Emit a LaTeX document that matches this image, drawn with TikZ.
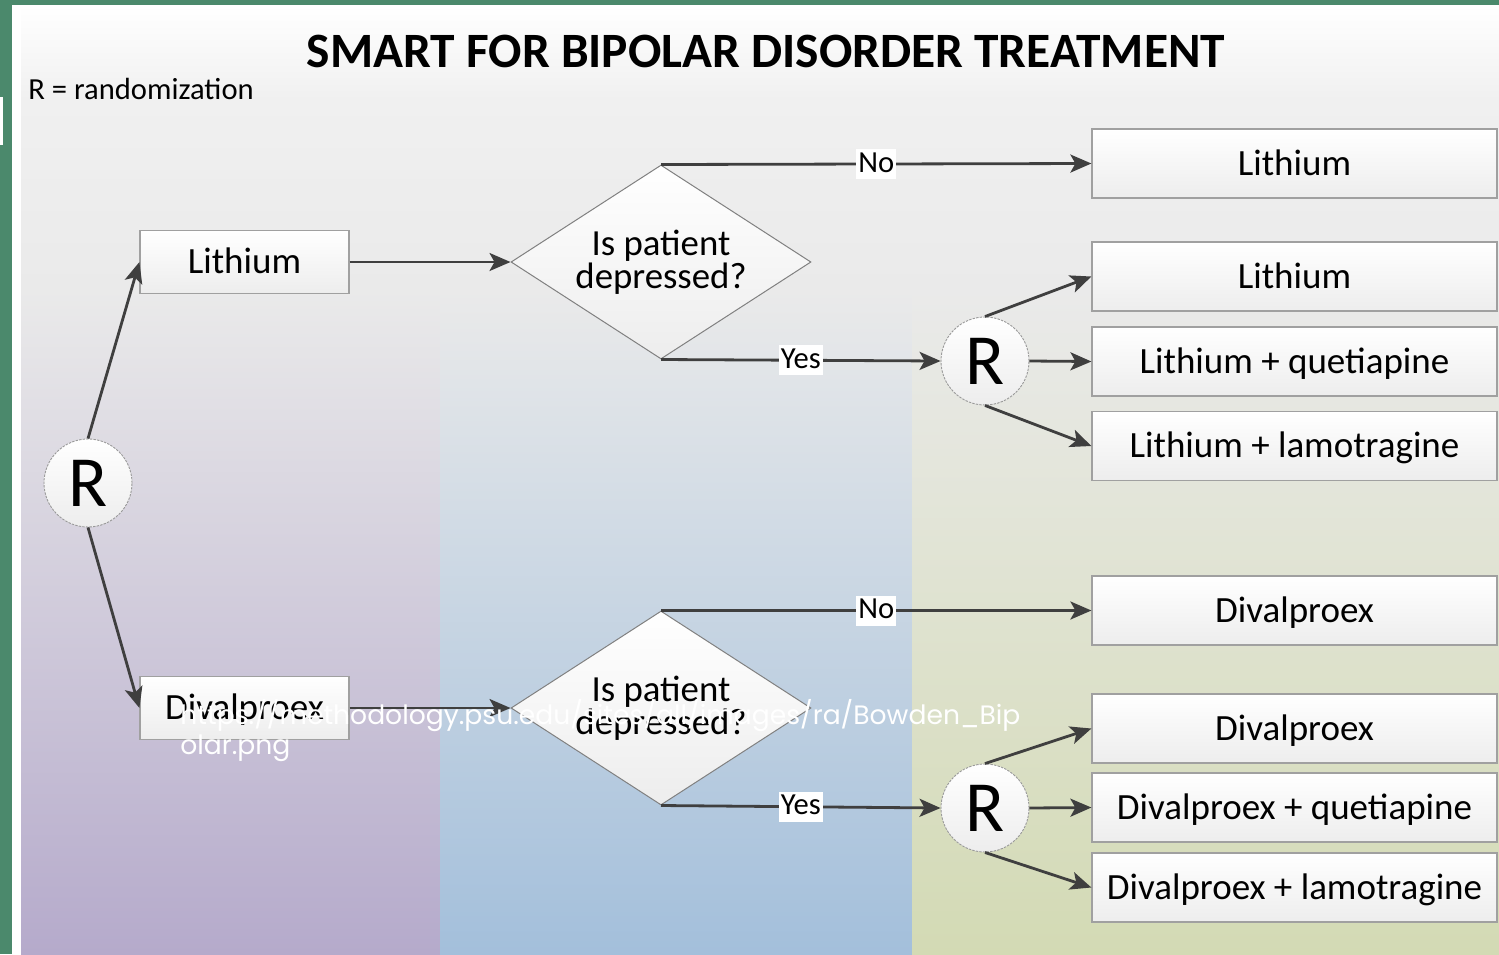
\documentclass[tikz,border=0pt]{standalone}
\usepackage{fontspec}
\setmainfont{Carlito}
\newfontfamily\wmfont{Poppins}
\usetikzlibrary{shapes.geometric,arrows.meta}
\definecolor{framegreen}{HTML}{4B896C}
\definecolor{topg}{HTML}{F0F0F0}
\definecolor{midg}{HTML}{EAEAEA}
\definecolor{lavB}{HTML}{B5AACB}
\definecolor{bluB}{HTML}{A3BFDB}
\definecolor{grnB}{HTML}{D3DAB4}
\definecolor{arrgray}{HTML}{3F3F3F}
\definecolor{boxgray}{HTML}{A0A0A0}
\definecolor{boxbot}{HTML}{EDEDED}
\pgfdeclareverticalshading{colL}{100bp}{color(0bp)=(lavB); color(25bp)=(lavB); color(60bp)=(midg); color(70bp)=(topg); color(75bp)=(white); color(100bp)=(white)}
\pgfdeclareverticalshading{colM}{100bp}{color(0bp)=(bluB); color(25bp)=(bluB); color(60bp)=(midg); color(70bp)=(topg); color(75bp)=(white); color(100bp)=(white)}
\pgfdeclareverticalshading{colR}{100bp}{color(0bp)=(grnB); color(25bp)=(grnB); color(60bp)=(midg); color(70bp)=(topg); color(75bp)=(white); color(100bp)=(white)}
\begin{document}
\begin{tikzpicture}[x=0.5pt,y=-0.5pt,
  rbox/.style={draw=boxgray, line width=0.6pt, top color=white, bottom color=boxbot,
    minimum width=202.5pt, minimum height=34.5pt, inner sep=0pt,
    font=\fontsize{18.5}{22}\selectfont, text height=11.9pt, text depth=0pt},
  lbox/.style={rbox, minimum width=104.5pt, minimum height=31.5pt},
  decis/.style={shape=diamond, aspect=1.546, draw=gray, line width=0.5pt, top color=white, bottom color=boxbot,
    minimum width=150pt, minimum height=97pt, inner sep=0pt, align=center,
    font=\fontsize{18.4}{15}\selectfont},
  rcirc/.style={circle, draw=gray!80, dash pattern=on 1.2pt off 0.6pt, line width=0.45pt, top color=white, bottom color=boxbot,
    minimum size=44pt, inner sep=0pt, font=\fontsize{36}{40}\selectfont, text height=23.2pt, text depth=0pt},
  arr/.style={draw=arrgray, line width=1.4pt, -{Stealth[length=10.5pt,width=9pt,inset=2.5pt]}},
  lab/.style={fill=white, inner sep=1pt, font=\fontsize{15.3}{18}\selectfont, text height=10.5pt, text depth=2.5pt}
]
\useasboundingbox (0,0) rectangle (1499,954);
\fill[white] (0,0) rectangle (1499,954);
\shade[shading=colL] (21,5) rectangle (440,954);
\shade[shading=colM] (440,5) rectangle (912,954);
\shade[shading=colR] (912,5) rectangle (1499,954);
\fill[framegreen] (0,0) rectangle (12,954);
\fill[framegreen] (0,0) rectangle (1499,5);
\fill[white] (0,97) rectangle (3,145);

\node[anchor=base, inner sep=0pt, font=\fontsize{24.7}{28}\selectfont\bfseries] (title) at (766,67) {SMART FOR BIPOLAR DISORDER TREATMENT};
\node[anchor=base west, inner sep=0pt, font=\fontsize{15.3}{18}\selectfont] (rand) at (28,99) {R = randomization};

\node[rcirc] (rL) at (88,483) {R};
\node[lbox] (litL) at (244.5,262) {Lithium};
\node[lbox] (divL) at (244.5,708) {Divalproex};
\node[decis] (d1) at (661,262) {Is patient\\depressed?};
\node[decis] (d2) at (661,708) {Is patient\\depressed?};
\node[rcirc] (r1) at (985,361) {R};
\node[rcirc] (r2) at (985,808) {R};
\node[rbox] (b1) at (1294.5,163.5) {Lithium};
\node[rbox] (b2) at (1294.5,276.5) {Lithium};
\node[rbox] (b3) at (1294.5,361.5) {Lithium + quetiapine};
\node[rbox] (b4) at (1294.5,446) {Lithium + lamotragine};
\node[rbox] (b5) at (1294.5,610.5) {Divalproex};
\node[rbox] (b6) at (1294.5,728.5) {Divalproex};
\node[rbox] (b7) at (1294.5,807.5) {Divalproex + quetiapine};
\node[rbox] (b8) at (1294.5,887.5) {Divalproex + lamotragine};

\draw[arr] (rL.north) -- (litL.west);
\draw[arr] (rL.south) -- (divL.west);
\draw[arr] (litL.east) -- (d1.west);
\draw[arr] (divL.east) -- (d2.west);
\draw[arr] (d1.north) -- node[lab] {No} (b1.west);
\draw[arr] (d1.south) -- node[lab] {Yes} (r1.west);
\draw[arr] (d2.north) -- node[lab] {No} (b5.west);
\draw[arr] (d2.south) -- node[lab] {Yes} (r2.west);
\draw[arr] (r1.north) -- (b2.west);
\draw[arr] (r1.east) -- (b3.west);
\draw[arr] (r1.south) -- (b4.west);
\draw[arr] (r2.north) -- (b6.west);
\draw[arr] (r2.east) -- (b7.west);
\draw[arr] (r2.south) -- (b8.west);

\node[anchor=base west, inner sep=0pt, align=left, text=white, font=\wmfont\fontsize{13.3}{15}\selectfont] (wm) at (180,754) {https://methodology.psu.edu/sites/all/images/ra/Bowden\_Bip\\olar.png};
\end{tikzpicture}
\end{document}
